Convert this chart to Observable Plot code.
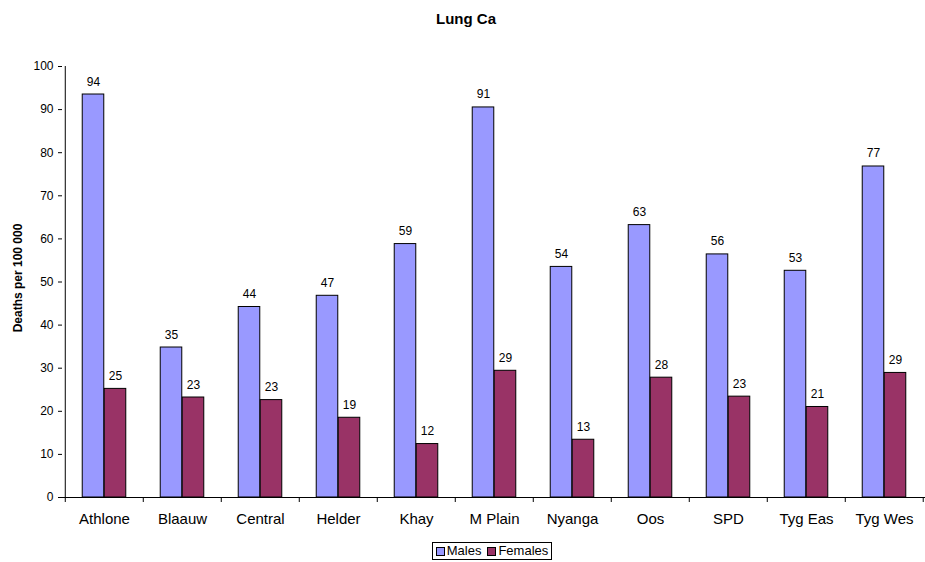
<!DOCTYPE html>
<html>
<head>
<meta charset="utf-8">
<script src="https://cdn.jsdelivr.net/npm/d3@7"></script>
<script src="https://cdn.jsdelivr.net/npm/@observablehq/plot@0.6"></script>
<style>
  html, body { margin: 0; padding: 0; background: #fff; }
  body { font-family: "Liberation Sans", Arial, sans-serif; color: #000; }
  #wrap { position: relative; width: 925px; height: 562px; overflow: hidden; }
  #title { height: 15px; line-height: 15px; padding: 11px 0 14px 7px; text-align: center; font-weight: bold; font-size: 15px; }
  #chart svg { display: block; }
  #legend { position: absolute; left: 432px; top: 542px; width: 118px; height: 16px; border: 1px solid #000;
            font-size: 13px; display: flex; align-items: center; justify-content: center; gap: 2px; box-sizing: content-box; }
  #legend .sw { display: inline-block; width: 7px; height: 7px; border: 1px solid #000; margin-right: 2px; }
  #legend .item { display: flex; align-items: center; margin: 0 2px; line-height: 16px; }
</style>
</head>
<body>
<div id="wrap">
  <div id="title">Lung Ca</div>
  <div id="chart"></div>
  <div id="legend"></div>
</div>
<script>
const districts = ["Athlone", "Blaauw", "Central", "Helder", "Khay", "M Plain", "Nyanga", "Oos", "SPD", "Tyg Eas", "Tyg Wes"];
const males   = [93.5, 34.8, 44.2, 46.8, 58.8, 90.5, 53.5, 63.2, 56.4, 52.6, 76.8];
const females = [25.2, 23.2, 22.6, 18.5, 12.4, 29.4, 13.4, 27.8, 23.4, 21.0, 28.9];
const yTicks  = [0, 10, 20, 30, 40, 50, 60, 70, 80, 90, 100];
const seriesNames = ["Males", "Females"];
const seriesColors = ["#9999FF", "#993366"];
const chartTitle = "Lung Ca";
const yLabel = "Deaths per 100 000";

const W = 925, H = 495, ML = 62, MR = 0, MT = 26, MB = 38;
const bw = (W - ML - MR) / districts.length;
const barW = 22;
const gap = (bw - 2 * barW) / 2;

const maleData = districts.map((d, i) => ({district: d, value: males[i]}));
const femaleData = districts.map((d, i) => ({district: d, value: females[i]}));

document.getElementById("title").textContent = chartTitle;

const font = '"Liberation Sans", Arial, sans-serif';

const chart = Plot.plot({
  width: W, height: H,
  marginLeft: ML, marginRight: MR, marginTop: MT, marginBottom: MB,
  style: {fontFamily: font, fontSize: "12px", color: "#000", background: "#fff", overflow: "visible"},
  x: {type: "band", domain: districts, padding: 0, label: null},
  y: {domain: [0, 100], label: null},
  marks: [
    Plot.barY(maleData, {x: "district", y: "value", fill: seriesColors[0], stroke: "#000", strokeWidth: 1,
      insetLeft: gap, insetRight: gap + barW}),
    Plot.barY(femaleData, {x: "district", y: "value", fill: seriesColors[1], stroke: "#000", strokeWidth: 1,
      insetLeft: gap + barW, insetRight: gap}),
    Plot.text(maleData, {x: "district", y: "value", text: d => String(Math.round(d.value)),
      dx: -barW / 2, dy: -9, lineAnchor: "bottom", fontSize: 12, fill: "#000"}),
    Plot.text(femaleData, {x: "district", y: "value", text: d => String(Math.round(d.value)),
      dx: barW / 2, dy: -9, lineAnchor: "bottom", fontSize: 12, fill: "#000"}),
    // y axis line
    Plot.ruleX([districts[0]], {x: d => d, dx: -bw / 2, stroke: "#000"}),
    // baseline
    Plot.ruleY([0], {stroke: "#000"}),
    // category boundary ticks
    Plot.ruleX(districts, {x: d => d, dx: -bw / 2, y1: () => 0, y2: () => 0, insetTop: 5, stroke: "#000"}),
    Plot.ruleX([districts[districts.length - 1]], {x: d => d, dx: bw / 2 - 0.5, y1: () => 0, y2: () => 0, insetTop: 5, stroke: "#000"}),
    Plot.axisY({ticks: yTicks, tickSize: 4, tickPadding: 5, label: null, fontSize: 12, stroke: "#000"}),
    Plot.axisX({tickSize: 0, tickPadding: 16, label: null, fontSize: 15}),
    Plot.text([yLabel], {frameAnchor: "left", textAnchor: "middle", rotate: -90, dx: -44, dy: -4, fontWeight: "bold", fontSize: 12, fill: "#000"})
  ]
});
document.getElementById("chart").appendChild(chart);

const legend = document.getElementById("legend");
seriesNames.forEach((name, i) => {
  const item = document.createElement("span");
  item.className = "item";
  const sw = document.createElement("span");
  sw.className = "sw";
  sw.style.background = seriesColors[i];
  item.appendChild(sw);
  item.appendChild(document.createTextNode(name));
  legend.appendChild(item);
});
</script>
</body>
</html>
